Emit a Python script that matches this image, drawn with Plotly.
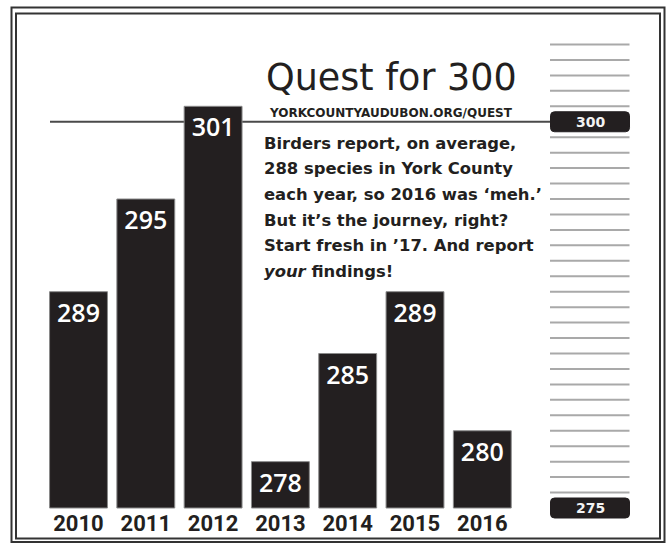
import plotly.graph_objects as go

# ---- data ----
years = ["2010", "2011", "2012", "2013", "2014", "2015", "2016"]
species = [289, 295, 301, 278, 285, 289, 280]
scale_base = 275
goal = 300
scale_top = 305
title_text = "Quest for 300"
subtitle_text = "YORKCOUNTYAUDUBON.ORG/QUEST"
body_lines = [
    "Birders report, on average,",
    "288 species in York County",
    "each year, so 2016 was \u2018meh.\u2019",
    "But it\u2019s the journey, right?",
    "Start fresh in \u201917. And report",
    "<i>your</i> findings!",
]

W, H = 670, 543
INK = "#231f20"


def fx(px):
    return px / W


def fy(py):
    return 1 - py / H


PPU = 15.45          # pixels per species
BASE_PY = 508        # pixel row of the 275 baseline
y_lo = scale_base - (H - BASE_PY) / PPU
y_hi = scale_base + BASE_PY / PPU
SLOT = 67.3
x_lo = -78.5 / SLOT
x_hi = x_lo + W / SLOT

fig = go.Figure()
fig.add_trace(go.Bar(
    x=years,
    y=[v - scale_base for v in species],
    base=scale_base,
    text=[str(v) for v in species],
    textposition="inside",
    insidetextanchor="end",
    textangle=0,
    textfont=dict(family="Open Sans, Liberation Sans, sans-serif", size=25, color="white", weight=600),
    marker=dict(color=INK, line=dict(color="#8a8a8a", width=1)),
    width=0.86,
    hoverinfo="skip",
))

shapes = []
# border (double line)
shapes.append(dict(type="rect", xref="paper", yref="paper",
                   x0=fx(11.5), x1=fx(664.5), y0=fy(542), y1=fy(7.5),
                   line=dict(color="#333", width=2)))
shapes.append(dict(type="rect", xref="paper", yref="paper",
                   x0=fx(16), x1=fx(660), y0=fy(538.5), y1=fy(13.5),
                   line=dict(color="#333", width=2)))
# goal line
shapes.append(dict(type="line", xref="paper", yref="y", layer="below",
                   x0=fx(50), x1=fx(551), y0=goal, y1=goal,
                   line=dict(color="#4a4a4a", width=2)))
# right-hand scale
for v in range(scale_base + 1, scale_top + 1):
    if v == goal:
        continue
    shapes.append(dict(type="line", xref="paper", yref="y",
                       x0=fx(550), x1=fx(629.5), y0=v, y1=v,
                       line=dict(color="#a9a9a9", width=2)))


def pill(v):
    x0, x1 = fx(550.5), fx(629.5)
    h = 10 / PPU
    y0, y1 = v - h, v + h
    rx, ry = fx(4), 4 / PPU
    p = (f"M {x0+rx},{y0} L {x1-rx},{y0} Q {x1},{y0} {x1},{y0+ry} "
         f"L {x1},{y1-ry} Q {x1},{y1} {x1-rx},{y1} L {x0+rx},{y1} "
         f"Q {x0},{y1} {x0},{y1-ry} L {x0},{y0+ry} Q {x0},{y0} {x0+rx},{y0} Z")
    return dict(type="path", xref="paper", yref="y", path=p,
                fillcolor=INK, line=dict(color=INK, width=1))


shapes.append(pill(goal))
shapes.append(pill(scale_base))

annotations = []
for v in (goal, scale_base):
    annotations.append(dict(xref="paper", yref="y", x=fx(590), y=v,
                            text=str(v), showarrow=False,
                            font=dict(family="DejaVu Sans", size=14, color="#f2f2f2", weight="bold"),
                            xanchor="center", yanchor="middle"))

annotations.append(dict(xref="paper", yref="paper", x=fx(391), y=fy(78),
                        text=title_text, showarrow=False,
                        font=dict(family="DejaVu Sans", size=36.5, color=INK),
                        xanchor="center", yanchor="middle"))
annotations.append(dict(xref="paper", yref="paper", x=fx(391), y=fy(113),
                        text=subtitle_text, showarrow=False,
                        font=dict(family="DejaVu Sans", size=12, color=INK, weight="bold"),
                        xanchor="center", yanchor="middle"))
for i, line in enumerate(body_lines):
    annotations.append(dict(xref="paper", yref="paper", x=fx(262), y=fy(143 + 25.7 * i),
                            text=line, showarrow=False,
                            font=dict(family="DejaVu Sans", size=16.4, color=INK, weight="bold"),
                            xanchor="left", yanchor="middle"))

fig.update_layout(
    width=W, height=H,
    margin=dict(l=0, r=0, t=0, b=0),
    paper_bgcolor="white", plot_bgcolor="white",
    showlegend=False,
    shapes=shapes,
    annotations=annotations,
    bargap=0.14,
    xaxis=dict(type="category", range=[x_lo, x_hi], showgrid=False, zeroline=False,
               showline=False, ticks="", anchor="free", position=(H - BASE_PY) / H,
               tickfont=dict(family="Roboto, Liberation Sans, sans-serif", size=22, color=INK, weight="bold"),
               fixedrange=True),
    yaxis=dict(range=[y_lo, y_hi], visible=False, fixedrange=True),
)

fig.write_html("out.html", config={"displayModeBar": False})
